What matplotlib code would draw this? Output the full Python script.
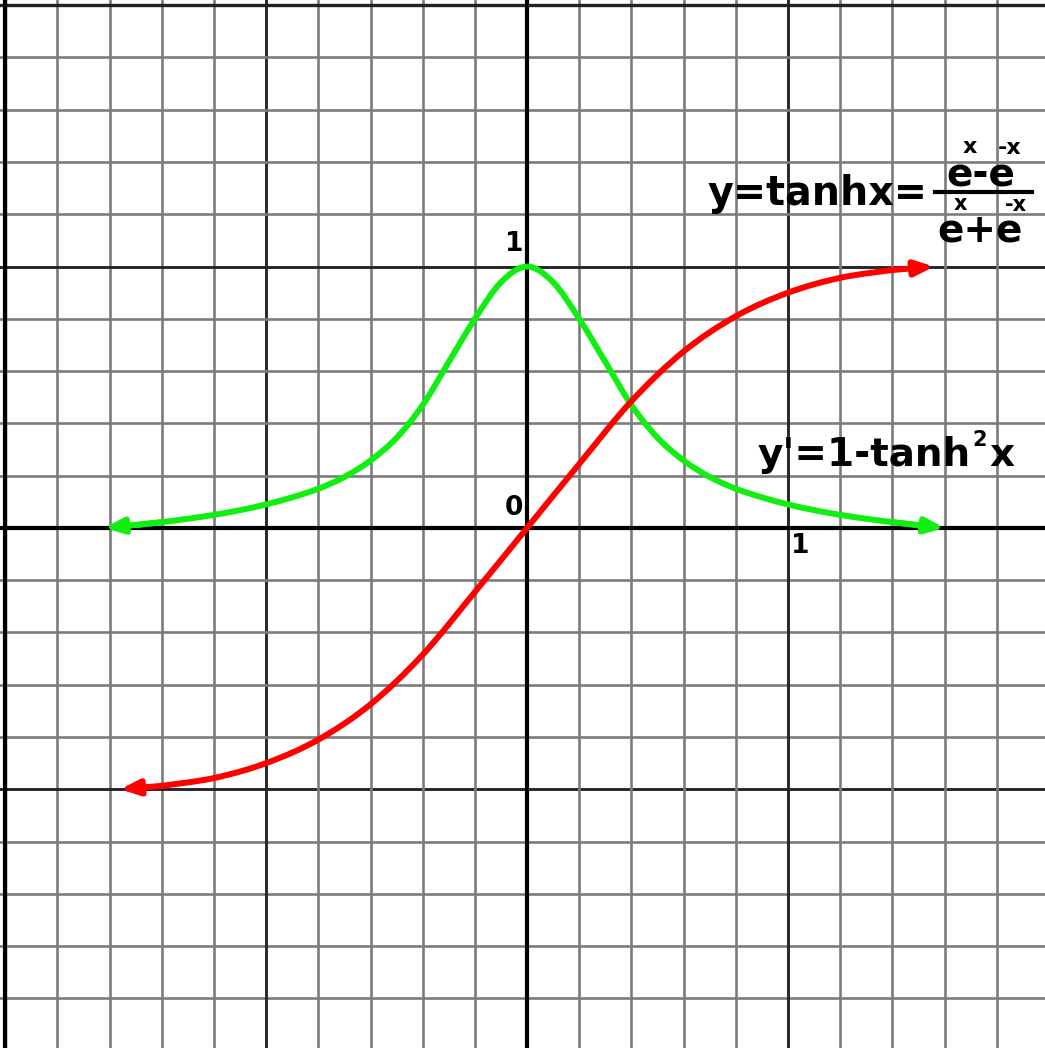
import numpy as np
import matplotlib
matplotlib.use("Agg")
import matplotlib.pyplot as plt
from matplotlib.path import Path
from matplotlib.patches import PathPatch

# curve values (grid units, one small cell = 0.2)
tanh_x = [-1.56, -1.4, -1.2, -1.0, -0.8, -0.6, -0.4, -0.2, 0.0,
          0.2, 0.4, 0.6, 0.8, 1.0, 1.2, 1.4, 1.56]
tanh_y = [-1.0, -0.987, -0.957, -0.90, -0.81, -0.675, -0.485, -0.245, 0.0,
          0.245, 0.485, 0.675, 0.81, 0.90, 0.957, 0.987, 1.0]

deriv_x = [-1.62, -1.5, -1.4, -1.3, -1.2, -1.1, -1.0, -0.9, -0.8, -0.7, -0.6, -0.5, -0.4,
           -0.3, -0.2, -0.1, 0.0, 0.1, 0.2, 0.3, 0.4, 0.5, 0.6, 0.7, 0.8, 0.9, 1.0,
           1.1, 1.2, 1.3, 1.4, 1.5, 1.6]
deriv_y = [0.0, 0.01, 0.022, 0.035, 0.05, 0.068, 0.09, 0.117, 0.15, 0.195, 0.258, 0.345, 0.47,
           0.635, 0.80, 0.94, 1.0, 0.94, 0.80, 0.635, 0.47, 0.345, 0.258, 0.195, 0.15, 0.117, 0.09,
           0.068, 0.05, 0.035, 0.022, 0.01, 0.0]

grid_ticks = np.round(np.arange(-2.0, 2.01, 0.2), 2)
major_ticks = [-1.0, 1.0]

RED = "#ff0000"
GREEN = "#11ee11"

fig = plt.figure(figsize=(10.45, 10.48), dpi=100)
ax = fig.add_axes([0, 0, 1, 1])
ax.set_xlim(-2.02, 1.985)
ax.set_ylim(-1.99, 2.02)
ax.axis("off")

# graph paper
for t in grid_ticks:
    if t == 0:
        continue
    if t in major_ticks:
        c, lw = "#262626", 2.1
    elif abs(t) == 2.0:
        c, lw = "#222222", 2.4
    else:
        c, lw = "#7c7c7c", 1.9
    ax.axvline(t, color=c, lw=lw, zorder=1)
    ax.axhline(t, color=c, lw=lw, zorder=1)
ax.axvline(-2.0, color="black", lw=3, zorder=1)
ax.axvline(0, color="black", lw=3, zorder=2)
ax.axhline(0, color="black", lw=3, zorder=2)


def smooth_path(xs, ys):
    # Catmull-Rom through the read points, drawn as cubic Bezier pieces
    p = np.column_stack([xs, ys])
    verts = [p[0]]
    codes = [Path.MOVETO]
    n = len(p)
    for i in range(n - 1):
        p0 = p[max(i - 1, 0)]
        p1, p2 = p[i], p[i + 1]
        p3 = p[min(i + 2, n - 1)]
        verts += [p1 + (p2 - p0) / 6, p2 - (p3 - p1) / 6, p2]
        codes += [Path.CURVE4] * 3
    return Path(verts, codes)


def curve(xs, ys, color, back=1):
    ax.add_patch(PathPatch(smooth_path(xs[1:-1], ys[1:-1]), fill=False, edgecolor=color,
                           lw=4.3, capstyle="round", zorder=3))
    for a, b in [(back, 0), (-1 - back, -1)]:
        ax.annotate("", xy=(xs[b], ys[b]), xytext=(xs[a], ys[a]),
                    arrowprops=dict(arrowstyle="-|>,head_length=1.1,head_width=0.45",
                                    color=color, lw=4.3, shrinkA=0, shrinkB=0),
                    zorder=3)


curve(deriv_x, deriv_y, GREEN, back=2)
curve(tanh_x, tanh_y, RED)

txt = dict(fontweight="bold", color="black", family="DejaVu Sans", zorder=4)
ax.text(-0.048, 1.088, "1", fontsize=19, ha="center", va="center", **txt)
ax.text(-0.05, 0.075, "0", fontsize=19, ha="center", va="center", **txt)
ax.text(1.046, -0.069, "1", fontsize=19, ha="center", va="center", **txt)

# y = tanh x = (e^x - e^-x) / (e^x + e^-x)
ax.text(0.693, 1.234, "y=tanhx=", fontsize=28.5, ha="left", va="baseline", **txt)
ax.text(1.738, 1.305, "e-e", fontsize=28, ha="center", va="baseline", **txt)
ax.plot([1.565, 1.935], [1.284, 1.284], color="black", lw=3, zorder=4)
ax.text(1.738, 1.095, "e+e", fontsize=28, ha="center", va="baseline", **txt)
ax.text(1.697, 1.458, "x", fontsize=16, ha="center", va="center", **txt)
ax.text(1.850, 1.455, "-x", fontsize=16, ha="center", va="center", **txt)
ax.text(1.659, 1.240, "x", fontsize=15, ha="center", va="center", **txt)
ax.text(1.872, 1.236, "-x", fontsize=15, ha="center", va="center", **txt)

# y' = 1 - tanh^2 x
ax.text(0.885, 0.238, "y'=1-tanh", fontsize=28, ha="left", va="baseline", **txt)
ax.text(1.735, 0.338, "2", fontsize=15, ha="center", va="center", **txt)
ax.text(1.772, 0.238, "x", fontsize=28, ha="left", va="baseline", **txt)

fig.savefig("out.png", dpi=100)
